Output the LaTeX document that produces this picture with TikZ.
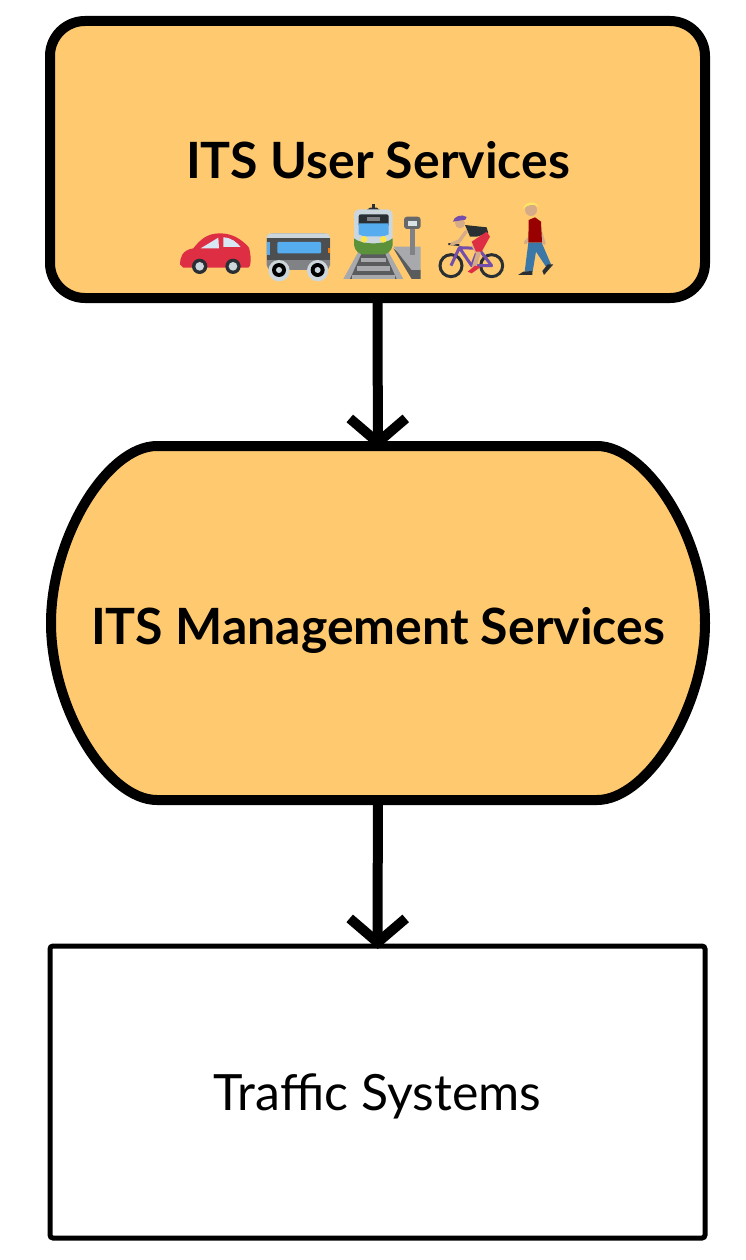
\documentclass[tikz,border=0pt]{standalone}
\usepackage{fontspec}
\setmainfont{Lato}
\usetikzlibrary{arrows.meta}

\definecolor{boxorange}{HTML}{FFCA6F}
\definecolor{emred}{HTML}{DD2E44}
\definecolor{emdark}{HTML}{292F33}
\definecolor{emlight}{HTML}{CCD6DD}
\definecolor{emblue}{HTML}{55ACEE}
\definecolor{emgrey}{HTML}{808285}
\definecolor{emrail}{HTML}{A7A9AC}
\definecolor{empurple}{HTML}{744EAA}
\definecolor{emskin}{HTML}{D5AB88}
\definecolor{emgreen}{HTML}{5C913B}

\begin{document}
\begin{tikzpicture}
[x=1pt,y=-1pt]
\tikzset{
	userbox/.style = {draw, fill=boxorange, line width=10pt, rounded corners=35pt, minimum width=655pt, minimum height=277pt, inner sep=0pt},
	mgmtbox/.style = {minimum width=654pt, minimum height=354pt, inner sep=0pt, outer sep=0pt},
	trafficbox/.style = {draw, fill=white, line width=5pt, rounded corners=3pt, minimum width=655pt, minimum height=292pt, inner sep=0pt, outer sep=0pt},
	bigtext/.style = {font=\fontsize{50}{60}\selectfont, text depth=0pt},
	flow/.style = {line width=10pt, shorten >=-3pt, -{Straight Barb[length=24pt,width=56pt]}}
}
\useasboundingbox (0,0) rectangle (746,1260);

\draw [fill=boxorange, line width=10pt] (157,446) -- (597,446)
	.. controls (647,446) and (705,538) .. (705,623)
	.. controls (705,708) and (647,800) .. (597,800)
	-- (157,800)
	.. controls (107,800) and (51,708) .. (51,623)
	.. controls (51,538) and (107,446) .. (157,446)
	-- cycle;

\node (user) [userbox] at (377.5,159.5) {};
\node (usertext) [bigtext] at (378,160) {\textbf{ITS User Services}};
\node (mgmt) [mgmtbox] at (378,623) {};
\node (mgmttext) [bigtext] at (378,626) {\textbf{ITS Management Services}};
\node (traffic) [trafficbox, bigtext] at (377.5,1092) {Traffic Systems};

\draw [flow] (user) to (mgmt);
\draw [flow] (mgmt) to (traffic);

% car
\begin{scope}[shift={(170,195)}, scale=1/3]
	\fill [emred] (30,208) .. controls (30,190) and (35,165) .. (70,160)
		.. controls (90,135) and (110,115) .. (150,115) .. controls (190,115) and (215,135) .. (235,155)
		.. controls (243,170) and (243,200) .. (240,212) -- (235,218) -- (40,218) -- cycle;
	\fill [emlight!60!emblue!40] (92,160) -- (145,128) -- (147,160) -- cycle;
	\fill [emlight!60!emblue!40] (160,127) .. controls (185,128) and (200,142) .. (212,156) -- (160,156) -- cycle;
	\fill [emdark] (89,214) circle (23);
	\fill [emlight] (89,214) circle (13);
	\fill [emdark] (189,214) circle (23);
	\fill [emlight] (189,214) circle (13);
\end{scope}

% bus
\begin{scope}[shift={(170,195)}, scale=1/3]
	\fill [emgrey, rounded corners=5pt] (290,115) rectangle (480,225);
	\fill [emlight, rounded corners=4pt] (290,115) rectangle (480,140);
	\fill [emgrey!60!black] (292,130) rectangle (480,195);
	\fill [emblue, rounded corners=1pt] (322,141) rectangle (453,175);
	\fill [emblue] (291,142) rectangle (300,180);
	\fill [orange!80!brown] (474,160) rectangle (480,175);
	\fill [emlight] (327,227) circle (32);
	\fill [emlight] (443,227) circle (32);
	\fill [black] (327,225) circle (21);
	\fill [emlight] (327,225) circle (9);
	\fill [black] (443,225) circle (21);
	\fill [emlight] (443,225) circle (9);
\end{scope}

% train at the platform
\begin{scope}[shift={(170,195)}, scale=1/3]
	\fill [emrail] (520,252) -- (565,170) -- (655,170) -- (700,252) -- cycle;
	\fill [emgrey!70!black] (540,252) -- (575,175) -- (645,175) -- (680,252) -- cycle;
	\fill [emrail] (572,190) rectangle (648,202);
	\fill [emrail] (560,214) rectangle (660,228);
	\fill [emrail] (546,240) rectangle (674,252);
	\fill [emgrey!70!black] (670,160) -- (752,225) -- (752,252) -- (725,252) -- cycle;
	\fill [emrail] (670,155) -- (752,155) -- (752,225) -- (725,225) -- cycle;
	\fill [emgrey] (720,100) rectangle (735,180);
	\fill [emgrey!80!black, rounded corners=3pt] (702,65) rectangle (752,102);
	\fill [emlight!70] (715,78) rectangle (742,92);
	\fill [emdark] (590,45) -- (600,38) -- (620,38) -- (630,45) -- cycle;
	\fill [emdark] (606,28) rectangle (614,40);
	\fill [emlight, rounded corners=5pt] (552,43) rectangle (668,150);
	\fill [emgreen] (552,130) .. controls (575,150) and (645,150) .. (668,130)
		-- (668,150) .. controls (665,170) and (650,178) .. (640,178) -- (580,178)
		.. controls (570,178) and (555,170) .. (552,150) -- cycle;
	\fill [emdark, rounded corners=2pt] (566,58) rectangle (656,95);
	\fill [emgrey] (591,67) rectangle (630,77);
	\fill [emblue] (566,85) -- (656,85) -- (656,118) -- (640,124) -- (582,124) -- (566,118) -- cycle;
	\fill [yellow!80!orange!70] (582,133) circle (10);
	\fill [yellow!80!orange!70] (640,133) circle (10);
\end{scope}

% cyclist
\begin{scope}[shift={(170,195)}, scale=1/3]
	\draw [emdark, line width=3pt] (843,212) circle (33);
	\draw [emdark, line width=3pt] (965,212) circle (33);
	\draw [empurple, line width=3pt, line join=round] (843,212) -- (868,158) -- (925,160) -- (965,212) -- (905,212) -- (868,158);
	\draw [empurple, line width=3pt] (925,160) -- (905,212);
	\draw [emdark, line width=2pt] (835,147) -- (868,150);
	\fill [emdark] (885,90) -- (950,97) -- (955,115) -- (920,125) -- (900,125) -- cycle;
	\draw [emskin, line width=3.4pt, line cap=round] (888,110) -- (868,138) -- (845,147);
	\fill [emskin] (870,85) circle (15);
	\fill [empurple] (849,80) .. controls (850,65) and (875,55) .. (890,66) -- (886,74) -- cycle;
	\draw [emskin, line width=4.5pt] (910,150) -- (925,175) -- (912,218);
	\fill [emred] (905,140) -- (950,110) -- (960,125) -- (935,170) -- (918,170) -- cycle;
	\fill [emred] (893,230) -- (915,212) -- (932,216) -- (905,235) -- cycle;
\end{scope}

% walker
\begin{scope}[shift={(170,195)}, scale=1/3]
	\fill [emskin] (1083,45) circle (18);
	\fill [yellow!75!orange!60] (1058,42) .. controls (1060,25) and (1090,12) .. (1108,35) .. controls (1090,25) and (1075,28) .. (1058,42) -- cycle;
	\draw [emskin, line width=3.4pt, line cap=round] (1108,100) -- (1122,145);
	\draw [emskin, line width=3.4pt, line cap=round] (1083,95) -- (1082,125) -- (1066,143);
	\fill [red!60!black] (1076,75) -- (1095,67) -- (1113,80) -- (1116,143) -- (1075,143) -- cycle;
	\fill [emblue!70!black] (1075,143) -- (1115,143) -- (1143,208) -- (1128,215) -- (1098,170) -- (1088,230) -- (1064,230) -- cycle;
	\fill [emdark] (1044,240) -- (1060,230) -- (1087,228) -- (1087,240) -- cycle;
	\fill [emdark] (1117,228) -- (1133,208) -- (1150,208) -- (1122,240) -- cycle;
\end{scope}

\end{tikzpicture}
\end{document}
